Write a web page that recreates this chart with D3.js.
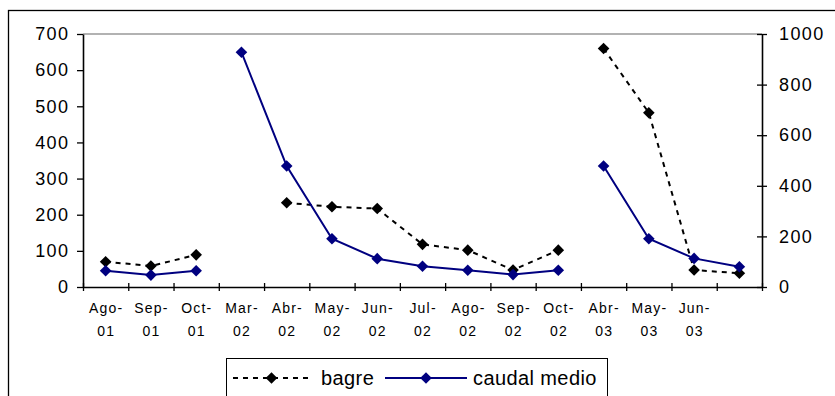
<!DOCTYPE html>
<html>
<head>
<meta charset="utf-8">
<script src="https://cdn.jsdelivr.net/npm/d3@7/dist/d3.min.js"></script>
<style>
  html, body { margin: 0; padding: 0; background: #fff; }
  svg { display: block; font-family: "Liberation Sans", Arial, sans-serif; }
</style>
</head>
<body>
<svg id="chart" width="835" height="396"></svg>
<script>
// Sampling months (two-line labels), last slot has no label
const monthLabels = ["Ago-", "Sep-", "Oct-", "Mar-", "Abr-", "May-", "Jun-", "Jul-", "Ago-", "Sep-", "Oct-", "Abr-", "May-", "Jun-", ""];
const yearLabels  = ["01", "01", "01", "02", "02", "02", "02", "02", "02", "02", "02", "03", "03", "03", ""];
// Sampling campaign each month belongs to; lines are not joined across campaigns
const campaign    = [1, 1, 1, 2, 2, 2, 2, 2, 2, 2, 2, 3, 3, 3, 3];

// bagre (left axis)
const bagre = [70, 58, 89, null, 233, 222, 217, 118, 102, 47, 102, 660, 482, 47, 38];
// caudal medio (right axis)
const caudal = [64, 47, 64, 928, 478, 191, 112, 82, 66, 49, 66, 478, 191, 113, 80];

const leftTicks = [0, 100, 200, 300, 400, 500, 600, 700];
const rightTicks = [0, 200, 400, 600, 800, 1000];

const svg = d3.select("#chart");

// outer chart frame
svg.append("rect")
  .attr("x", 8.5).attr("y", 10.5)
  .attr("width", 840).attr("height", 400)
  .attr("fill", "none").attr("stroke", "#000").attr("stroke-width", 1.3);

const plotL = 83, plotR = 762, plotT = 34, plotB = 287;
const idx = d3.range(monthLabels.length);

const x = d3.scaleBand().domain(idx).range([plotL, plotR]).paddingInner(0).paddingOuter(0);
const xEdge = d3.scaleLinear().domain([0, monthLabels.length]).range([plotL, plotR]);
const yL = d3.scaleLinear().domain([0, 700]).range([plotB, plotT]);
const yR = d3.scaleLinear().domain([0, 1000]).range([plotB, plotT]);
const cx = i => x(i) + x.bandwidth() / 2;

// plot-area top edge
svg.append("line")
  .attr("x1", plotL).attr("x2", plotR).attr("y1", plotT).attr("y2", plotT)
  .attr("stroke", "#999").attr("stroke-width", 1.6);

// left axis
const gL = svg.append("g").attr("transform", `translate(${plotL},0)`)
  .call(d3.axisLeft(yL).tickValues(leftTicks).tickFormat(d3.format("d"))
    .tickSize(6).tickSizeOuter(0).tickPadding(9));
// right axis
const gR = svg.append("g").attr("transform", `translate(${plotR},0)`)
  .call(d3.axisRight(yR).tickValues(rightTicks).tickFormat(d3.format("d"))
    .tickSize(5).tickSizeOuter(0).tickPadding(12));
gR.selectAll(".tick line").attr("x1", -5);
// bottom axis with ticks at month boundaries
const gB = svg.append("g").attr("transform", `translate(0,${plotB})`)
  .call(d3.axisBottom(xEdge).tickValues(d3.range(monthLabels.length + 1)).tickFormat("").tickSize(4).tickSizeOuter(0));
gB.selectAll(".tick line").attr("y1", -4);

[gL, gR, gB].forEach(g => {
  g.selectAll("path.domain").attr("stroke", "#000").attr("stroke-width", 1.6);
  g.selectAll(".tick line").attr("stroke", "#000").attr("stroke-width", 1.3);
  g.selectAll("text").attr("fill", "#000").style("font-size", "18px").style("letter-spacing", "1.4px");
});
gL.selectAll("text").attr("dx", "1.4px");

// month / year labels
const lab = svg.append("g").style("font-size", "14px").style("letter-spacing", "1.2px").attr("text-anchor", "middle");
lab.selectAll("text.m").data(idx).join("text").attr("class", "m")
  .attr("x", i => cx(i) + 0.6).attr("y", 313).text(i => monthLabels[i]);
lab.selectAll("text.yr").data(idx).join("text").attr("class", "yr")
  .attr("x", i => cx(i) + 0.6).attr("y", 336).text(i => yearLabels[i]);

const diamond = r => `M0,${-r}L${r},0L0,${r}L${-r},0Z`;

function drawSeries(values, yScale, color, dash) {
  const g = svg.append("g");
  const groups = d3.groups(idx.filter(i => values[i] != null), i => campaign[i]);
  const line = d3.line().x(cx).y(i => yScale(values[i]));
  groups.forEach(([, pts]) => {
    g.append("path").attr("d", line(pts))
      .attr("fill", "none").attr("stroke", color).attr("stroke-width", 2)
      .attr("stroke-dasharray", dash);
  });
  g.selectAll("path.mk").data(idx.filter(i => values[i] != null)).join("path")
    .attr("class", "mk")
    .attr("transform", i => `translate(${cx(i)},${yScale(values[i])})`)
    .attr("d", diamond(5.8)).attr("fill", color);
}

drawSeries(bagre, yL, "#000", "5,5");
drawSeries(caudal, yR, "#000080", null);

// legend
const lg = svg.append("g");
lg.append("rect").attr("x", 226.5).attr("y", 358.5).attr("width", 381).attr("height", 60)
  .attr("fill", "#fff").attr("stroke", "#000").attr("stroke-width", 1);
const legendItems = [
  { name: "bagre", color: "#000", dash: "5,5", x0: 233, x1: 310, tx: 321 },
  { name: "caudal medio", color: "#000080", dash: null, x0: 385, x1: 467, tx: 473 }
];
legendItems.forEach(d => {
  lg.append("line").attr("x1", d.x0).attr("x2", d.x1).attr("y1", 378).attr("y2", 378)
    .attr("stroke", d.color).attr("stroke-width", 2).attr("stroke-dasharray", d.dash);
  lg.append("path").attr("transform", `translate(${(d.x0 + d.x1) / 2},378)`)
    .attr("d", diamond(5.8)).attr("fill", d.color);
  lg.append("text").attr("x", d.tx).attr("y", 385).style("font-size", "20px")
    .style("letter-spacing", "0.4px").attr("fill", "#000").text(d.name);
});
</script>
</body>
</html>
